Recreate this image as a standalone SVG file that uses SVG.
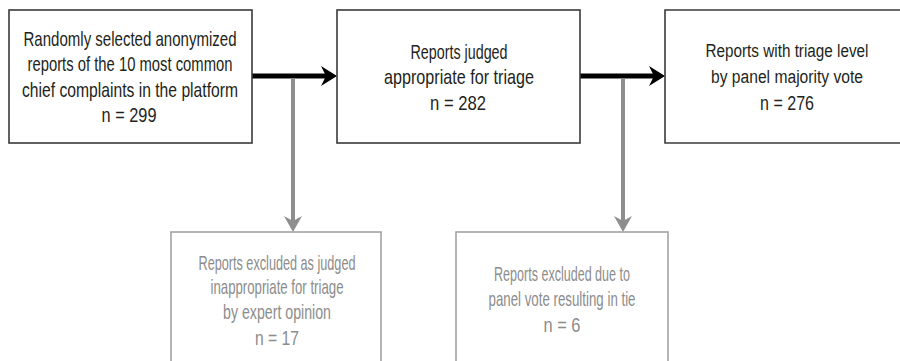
<svg xmlns="http://www.w3.org/2000/svg" width="900" height="361" viewBox="0 0 900 361">
<style>
.box{fill:#fff;stroke:#3a3a3a;stroke-width:1.6}
.gbox{fill:#fff;stroke:#a3a3a3;stroke-width:1.6}
text{font-family:"Liberation Sans",Arial,sans-serif;font-size:21px;text-anchor:start;dominant-baseline:central}
.t{fill:#231f20}
.g{fill:#8c8c8c}
.s{font-size:18px}
.bl{stroke:#000;stroke-width:5;fill:none}
.gl{stroke:#8e8e8e;stroke-width:4;fill:none}
</style>
<rect width="900" height="361" fill="#fff"/>
<g id="connectors">
<line class="bl" x1="252" y1="76" x2="328" y2="76"/>
<polygon points="321,66 337,76 321,86 326,76" fill="#000"/>
<line class="bl" x1="580" y1="76" x2="656" y2="76"/>
<polygon points="649,66 665,76 649,86 654,76" fill="#000"/>
<line class="gl" x1="293" y1="78" x2="293" y2="224"/>
<polygon points="284,216 293,232 302,216 293,221" fill="#8e8e8e"/>
<line class="gl" x1="623" y1="78" x2="623" y2="224"/>
<polygon points="614,216 623,232 632,216 623,221" fill="#8e8e8e"/>
</g>
<g id="node1">
<rect class="box" x="9" y="10" width="243" height="133"/>
<text class="t" x="23.5" y="38" textLength="213" lengthAdjust="spacingAndGlyphs">Randomly selected anonymized</text>
<text class="t" x="27.5" y="63.5" textLength="205" lengthAdjust="spacingAndGlyphs">reports of the 10 most common</text>
<text class="t" x="22" y="89" textLength="216" lengthAdjust="spacingAndGlyphs">chief complaints in the platform</text>
<text class="t" x="101.5" y="114.5" textLength="55" lengthAdjust="spacingAndGlyphs">n = 299</text>
</g>
<g id="node2">
<rect class="box" x="337" y="10" width="243" height="133"/>
<text class="t" x="410.5" y="51" textLength="97" lengthAdjust="spacingAndGlyphs">Reports judged</text>
<text class="t" x="384" y="76.5" textLength="150" lengthAdjust="spacingAndGlyphs">appropriate for triage</text>
<text class="t" x="430" y="102" textLength="56" lengthAdjust="spacingAndGlyphs">n = 282</text>
</g>
<g id="node3">
<path class="box" d="M900,10 H665 V143 H900"/>
<text class="t s" x="705.5" y="51" textLength="163" lengthAdjust="spacingAndGlyphs">Reports with triage level</text>
<text class="t s" x="711" y="76.5" textLength="152" lengthAdjust="spacingAndGlyphs">by panel majority vote</text>
<text class="t" x="760" y="102" textLength="54" lengthAdjust="spacingAndGlyphs">n = 276</text>
</g>
<g id="node4">
<rect class="gbox" x="171" y="232" width="210" height="140"/>
<text class="g" x="198.5" y="262" textLength="157" lengthAdjust="spacingAndGlyphs">Reports excluded as judged</text>
<text class="g" x="210.5" y="286.5" textLength="133" lengthAdjust="spacingAndGlyphs">inappropriate for triage</text>
<text class="g" x="223" y="311" textLength="108" lengthAdjust="spacingAndGlyphs">by expert opinion</text>
<text class="g" x="255" y="337" textLength="44" lengthAdjust="spacingAndGlyphs">n = 17</text>
</g>
<g id="node5">
<rect class="gbox" x="456" y="232" width="212" height="140"/>
<text class="g" x="494" y="273" textLength="136" lengthAdjust="spacingAndGlyphs">Reports excluded due to</text>
<text class="g" x="488.5" y="298" textLength="147" lengthAdjust="spacingAndGlyphs">panel vote resulting in tie</text>
<text class="g" x="543.5" y="324" textLength="37" lengthAdjust="spacingAndGlyphs">n = 6</text>
</g>
</svg>
